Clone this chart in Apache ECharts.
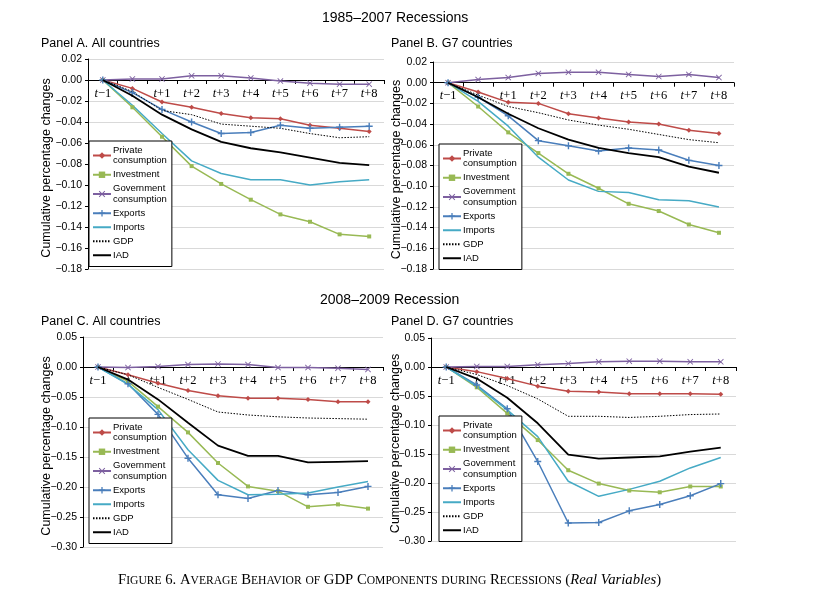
<!DOCTYPE html>
<html>
<head>
<meta charset="utf-8">
<script src="https://cdn.jsdelivr.net/npm/echarts@6/dist/echarts.min.js"></script>
<style>
html,body{margin:0;padding:0;background:#fff;}
#chart{width:816px;height:595px;}
</style>
</head>
<body>
<div id="chart"></div>
<script>
// ---------- Data ----------
const periods = ['t−1','t','t+1','t+2','t+3','t+4','t+5','t+6','t+7','t+8'];
const seriesNames = ['Private consumption','Investment','Government consumption','Exports','Imports','GDP','IAD'];

// Panel A: 1985–2007, all countries
const A_private    = [0, -0.008, -0.021, -0.026, -0.032, -0.036, -0.037, -0.043, -0.046, -0.049];
const A_investment = [0, -0.026, -0.054, -0.082, -0.099, -0.114, -0.128, -0.135, -0.147, -0.149];
const A_government = [0, 0.001, 0.001, 0.004, 0.004, 0.002, -0.001, -0.003, -0.004, -0.004];
const A_exports    = [0, -0.012, -0.028, -0.040, -0.051, -0.050, -0.043, -0.046, -0.045, -0.044];
const A_imports    = [0, -0.024, -0.051, -0.077, -0.089, -0.095, -0.095, -0.100, -0.097, -0.095];
const A_gdp        = [0, -0.011, -0.029, -0.033, -0.042, -0.044, -0.046, -0.051, -0.055, -0.054];
const A_iad        = [0, -0.015, -0.033, -0.047, -0.059, -0.065, -0.069, -0.074, -0.079, -0.081];

// Panel B: 1985–2007, G7 countries
const B_private    = [0, -0.009, -0.019, -0.020, -0.030, -0.034, -0.038, -0.040, -0.046, -0.049];
const B_investment = [0, -0.023, -0.048, -0.068, -0.088, -0.102, -0.117, -0.124, -0.137, -0.145];
const B_government = [0, 0.003, 0.005, 0.009, 0.010, 0.010, 0.008, 0.006, 0.008, 0.005];
const B_exports    = [0, -0.014, -0.032, -0.056, -0.061, -0.066, -0.063, -0.065, -0.075, -0.080];
const B_imports    = [0, -0.018, -0.042, -0.072, -0.094, -0.105, -0.106, -0.113, -0.114, -0.120];
const B_gdp        = [0, -0.012, -0.023, -0.029, -0.036, -0.041, -0.045, -0.050, -0.055, -0.058];
const B_iad        = [0, -0.014, -0.030, -0.044, -0.055, -0.063, -0.068, -0.072, -0.081, -0.087];

// Panel C: 2008–2009, all countries
const C_private    = [0, -0.013, -0.027, -0.039, -0.048, -0.052, -0.052, -0.054, -0.058, -0.058];
const C_investment = [0, -0.024, -0.066, -0.109, -0.160, -0.199, -0.207, -0.233, -0.229, -0.236];
const C_government = [0, -0.001, 0.001, 0.004, 0.005, 0.004, -0.001, -0.001, -0.002, -0.004];
const C_exports    = [0, -0.028, -0.079, -0.152, -0.213, -0.219, -0.206, -0.213, -0.209, -0.199];
const C_imports    = [0, -0.029, -0.071, -0.138, -0.189, -0.213, -0.212, -0.210, -0.200, -0.191];
const C_gdp        = [0, -0.013, -0.034, -0.054, -0.075, -0.080, -0.083, -0.085, -0.086, -0.087];
const C_iad        = [0, -0.021, -0.054, -0.093, -0.131, -0.148, -0.148, -0.159, -0.158, -0.157];

// Panel D: 2008–2009, G7 countries
const D_private    = [0, -0.008, -0.020, -0.033, -0.042, -0.043, -0.046, -0.046, -0.046, -0.047];
const D_investment = [0, -0.035, -0.080, -0.126, -0.178, -0.201, -0.213, -0.216, -0.206, -0.206];
const D_government = [0, 0.001, 0.001, 0.004, 0.006, 0.009, 0.010, 0.010, 0.009, 0.009];
const D_exports    = [0, -0.031, -0.072, -0.163, -0.269, -0.268, -0.248, -0.237, -0.222, -0.201];
const D_imports    = [0, -0.033, -0.074, -0.120, -0.197, -0.223, -0.211, -0.197, -0.174, -0.156];
const D_gdp        = [0, -0.013, -0.032, -0.055, -0.085, -0.085, -0.087, -0.085, -0.082, -0.081];
const D_iad        = [0, -0.020, -0.053, -0.097, -0.151, -0.158, -0.156, -0.154, -0.146, -0.139];

const panelData = [
  [A_private, A_investment, A_government, A_exports, A_imports, A_gdp, A_iad],
  [B_private, B_investment, B_government, B_exports, B_imports, B_gdp, B_iad],
  [C_private, C_investment, C_government, C_exports, C_imports, C_gdp, C_iad],
  [D_private, D_investment, D_government, D_exports, D_imports, D_gdp, D_iad]
];
const yMin = [-0.18, -0.18, -0.30, -0.30];
const yMax = [0.02, 0.02, 0.05, 0.05];
const yStep = [0.02, 0.02, 0.05, 0.05];

// ---------- Styles ----------
const SANS = '"Liberation Sans", Arial, Helvetica, sans-serif';
const SERIF = '"Liberation Serif", "Times New Roman", serif';
const PLUS = 'path://M4,0H6V4H10V6H6V10H4V6H0V4H4Z';
const STAR = 'path://M0,1L1,0L5,4L9,0L10,1L6,5L10,9L9,10L5,6L1,10L0,9L4,5Z';
const styles = [
  {color:'#be4b48', width:1.5, type:'solid', symbol:'diamond', size:5},
  {color:'#98b954', width:1.5, type:'solid', symbol:'rect', size:4},
  {color:'#7d60a0', width:1.5, type:'solid', symbol:STAR, size:6},
  {color:'#4a7ebb', width:1.5, type:'solid', symbol:PLUS, size:7},
  {color:'#46aac5', width:1.5, type:'solid', symbol:'none', size:0},
  {color:'#000000', width:1, type:[1.5,1.5], symbol:'none', size:0},
  {color:'#000000', width:1.8, type:'solid', symbol:'none', size:0}
];

const grids = [
  {left:88, top:59, width:296, height:210},
  {left:433, top:62, width:301, height:207},
  {left:83, top:337, width:300, height:210},
  {left:431, top:338, width:305, height:203}
];
const legendPos = [
  {left:89, top:141},
  {left:439, top:144},
  {left:89, top:418},
  {left:439, top:416}
];
const nameGaps = [35, 30, 30, 29];

const fmtY = v => Math.abs(v) < 1e-9 ? '0.00' : (v < 0 ? '−' : '') + Math.abs(v).toFixed(2);

const legendData = seriesNames.map((n, i) =>
  styles[i].symbol === 'none' ? {name:n, itemStyle:{opacity:0}} : {name:n});

const option = {
  animation:false,
  backgroundColor:'#ffffff',
  title:[
    {text:'1985–2007 Recessions', left:322, top:11, padding:0, textStyle:{fontFamily:SANS, fontSize:14, fontWeight:'normal', color:'#000'}},
    {text:'2008–2009 Recession', left:320, top:293, padding:0, textStyle:{fontFamily:SANS, fontSize:14, fontWeight:'normal', color:'#000'}},
    {text:'Panel A. All countries', left:41, top:37, padding:0, textStyle:{fontFamily:SANS, fontSize:12.5, fontWeight:'normal', color:'#000'}},
    {text:'Panel B. G7 countries', left:391, top:37, padding:0, textStyle:{fontFamily:SANS, fontSize:12.5, fontWeight:'normal', color:'#000'}},
    {text:'Panel C. All countries', left:41, top:315, padding:0, textStyle:{fontFamily:SANS, fontSize:12.5, fontWeight:'normal', color:'#000'}},
    {text:'Panel D. G7 countries', left:391, top:315, padding:0, textStyle:{fontFamily:SANS, fontSize:12.5, fontWeight:'normal', color:'#000'}},
    {text:'{b|F}{s|IGURE} {b|6. A}{s|VERAGE} {b|B}{s|EHAVIOR} {s|OF} {b|GDP C}{s|OMPONENTS} {s|DURING} {b|R}{s|ECESSIONS} {b|(}{i|Real Variables}{b|)}',
     left:118, top:573, padding:0,
     textStyle:{fontFamily:SERIF, fontSize:14.7, fontWeight:'normal', color:'#000',
       rich:{
         b:{fontFamily:SERIF, fontSize:14.7, color:'#000'},
         s:{fontFamily:SERIF, fontSize:11.6, color:'#000'},
         i:{fontFamily:SERIF, fontSize:14.7, fontStyle:'italic', color:'#000'}
       }}}
  ],
  grid: grids.map(g => Object.assign({containLabel:false, outerBoundsMode:'none'}, g)),
  xAxis: grids.map((g, i) => ({
    gridIndex:i, type:'category', data:periods, boundaryGap:true,
    position:'bottom',
    // place the category axis on the zero level of the value axis
    offset: -g.height * (0 - yMin[i]) / (yMax[i] - yMin[i]),
    axisLine:{onZero:false, lineStyle:{color:'#000', width:1}},
    axisTick:{show:true, length:4, lineStyle:{color:'#000'}},
    splitLine:{show:false},
    axisLabel:{interval:0, margin:7, color:'#000', fontFamily:SERIF, fontSize:12.5,
      formatter: s => '{i|t}' + s.slice(1),
      rich:{i:{fontFamily:SERIF, fontStyle:'italic', fontSize:12.5, color:'#000'}}}
  })),
  yAxis: grids.map((g, i) => ({
    gridIndex:i, type:'value', min:yMin[i], max:yMax[i], interval:yStep[i],
    name:'Cumulative percentage changes', nameLocation:'middle', nameGap:nameGaps[i],
    nameMoveOverlap:false,
    nameTextStyle:{fontFamily:SANS, fontSize:12.5, color:'#000', padding:[0,8,0,0]},
    axisLine:{show:true, lineStyle:{color:'#000', width:1}},
    axisTick:{show:true, length:3, lineStyle:{color:'#000'}},
    splitLine:{show:true, lineStyle:{color:'#d9d9d9', width:1}},
    axisLabel:{margin:6, color:'#000', fontFamily:SANS, fontSize:10.5, formatter:fmtY}
  })),
  legend: legendPos.map(p => ({
    left:p.left, top:p.top, orient:'vertical',
    data:legendData,
    backgroundColor:'#fff', borderColor:'#000', borderWidth:1, borderRadius:0,
    padding:[4,5,6,3], itemGap:3.5, itemWidth:18, itemHeight:8,
    selectedMode:false,
    formatter: n => n === 'Private consumption' ? 'Private\nconsumption' :
                    n === 'Government consumption' ? 'Government\nconsumption' : n,
    textStyle:{fontFamily:SANS, fontSize:9.5, color:'#000', lineHeight:10.5, padding:[0,0,0,-3]}
  })),
  series: []
};

panelData.forEach((panel, pi) => {
  panel.forEach((vals, si) => {
    const st = styles[si];
    option.series.push({
      name:seriesNames[si], type:'line', xAxisIndex:pi, yAxisIndex:pi,
      data:vals,
      symbol:st.symbol, symbolSize:st.size, showSymbol:st.symbol !== 'none',
      lineStyle:{color:st.color, width:st.width, type:st.type},
      itemStyle:{color:st.color},
      z: si === 6 ? 3 : 2,
      emphasis:{disabled:true}
    });
  });
});

const chart = echarts.init(document.getElementById('chart'), null, {renderer:'canvas'});
chart.setOption(option);
</script>
</body>
</html>
